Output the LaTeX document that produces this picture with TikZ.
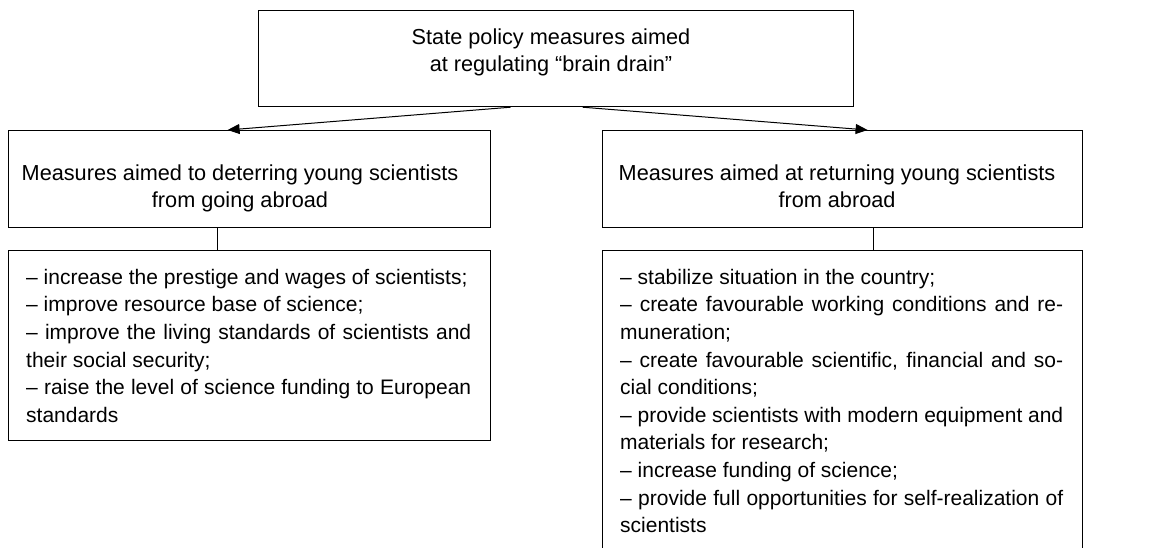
\documentclass[tikz,border=0pt]{standalone}
\usepackage{fontspec}
\setmainfont{Liberation Sans}
\usetikzlibrary{arrows.meta}
\begin{document}
\begin{tikzpicture}[x=1pt,y=-1pt,
  box/.style={draw, line width=1.2pt, inner sep=0pt, anchor=north west},
  txt/.style={inner sep=0pt, font=\fontsize{21.7}{27}\selectfont},
  listtxt/.style={inner sep=0pt, align=left, anchor=north west, font=\fontsize{21}{27.6}\selectfont},
  arr/.style={line width=1pt, -{Triangle[length=12pt,width=10pt]}},
  link/.style={line width=1pt}]
\useasboundingbox (0,0) rectangle (1163,547);
\clip (0,0) rectangle (1163,547);
% boxes
\node[box, minimum width=595pt, minimum height=96pt] (top) at (258,10) {};
\node[box, minimum width=482pt, minimum height=97pt] (lmid) at (8,130) {};
\node[box, minimum width=480pt, minimum height=97pt] (rmid) at (602,130) {};
\node[box, minimum width=482pt, minimum height=190pt] (llist) at (8,250) {};
\node[box, minimum width=480pt, minimum height=330pt] (rlist) at (602,250) {};
% texts
\node[txt, align=center, anchor=north] (toptxt) at (551,28)
  {\rule{0pt}{16pt}State policy measures aimed\\at regulating “brain drain”};
\node[txt, align=center, anchor=north] (lmidtxt) at (240,164)
  {\rule{0pt}{16pt}Measures aimed to deterring young scientists\\from going abroad};
\node[txt, align=center, anchor=north] (rmidtxt) at (837,164)
  {\rule{0pt}{16pt}Measures aimed at returning young scientists\\from abroad};
\node[listtxt] (llisttxt) at (26,268)
  {\rule{0pt}{16pt}– increase the prestige and wages of scientists;\\
   – improve resource base of science;\\
   \makebox[445pt][s]{– improve the living standards of scientists and}\\
   their social security;\\
   \makebox[445pt][s]{– raise the level of science funding to European}\\
   standards};
\node[listtxt] (rlisttxt) at (620,268)
  {\rule{0pt}{16pt}– stabilize situation in the country;\\
   \makebox[443pt][s]{– create favourable working conditions and re-}\\
   muneration;\\
   \makebox[443pt][s]{– create favourable scientific, financial and so-}\\
   cial conditions;\\
   \makebox[443pt][s]{– provide scientists with modern equipment and}\\
   materials for research;\\
   – increase funding of science;\\
   \makebox[443pt][s]{– provide full opportunities for self-realization of}\\
   scientists};
% connectors
\draw[arr] ([xshift=-45.5pt]top.south) -- ([xshift=-22pt]lmid.north);
\draw[arr] ([xshift=26.5pt]top.south) -- ([xshift=25pt]rmid.north);
\draw[link] ([xshift=-32pt]lmid.south) -- ([xshift=-32pt]llist.north);
\draw[link] ([xshift=31pt]rmid.south) -- ([xshift=31pt]rlist.north);
\end{tikzpicture}
\end{document}
